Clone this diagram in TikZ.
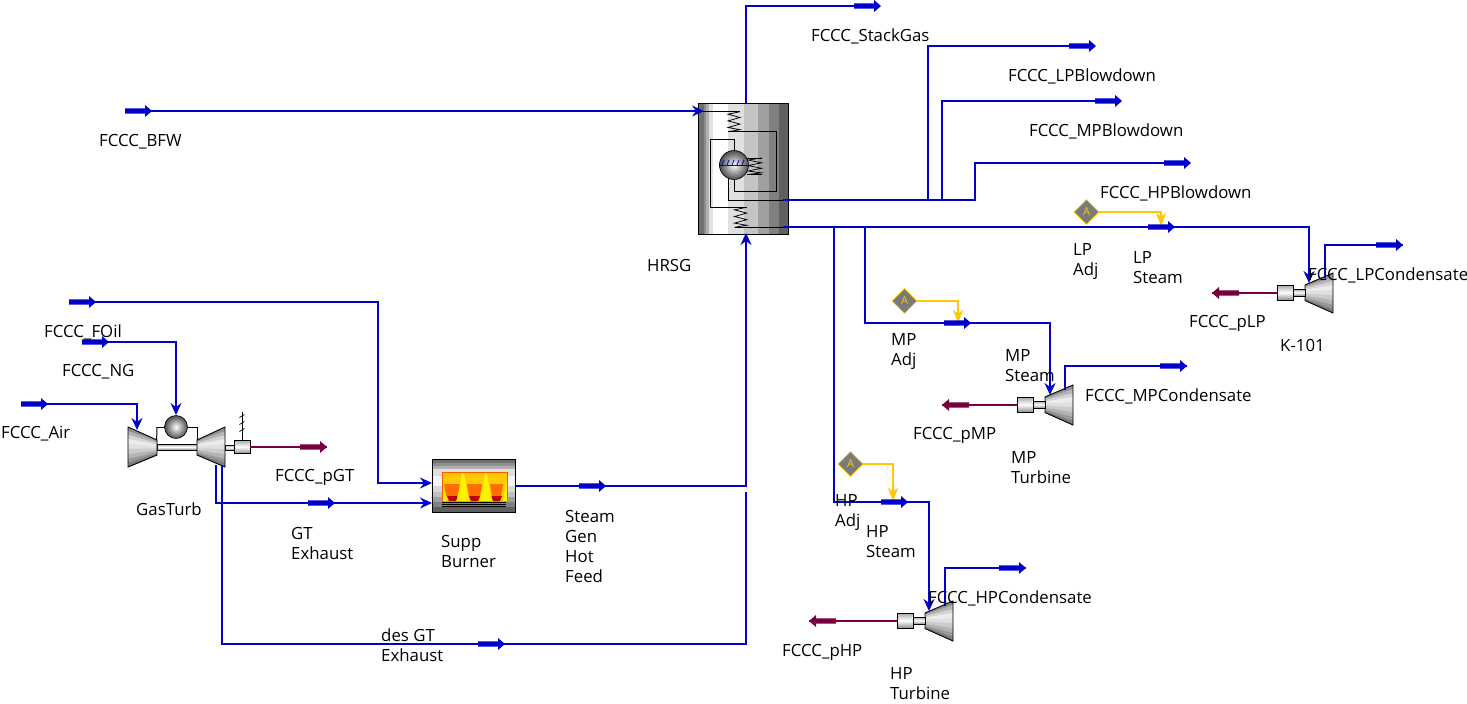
\documentclass[tikz,border=0pt]{standalone}
\usepackage{fontspec}
\setmainfont{Open Sans}
\usetikzlibrary{arrows.meta,calc,shapes.geometric}
\definecolor{strm}{HTML}{0000C8}
\definecolor{pow}{HTML}{780040}
\definecolor{adjy}{HTML}{FFC800}
\tikzset{
 x=1pt,y=-1pt,
 lbl/.style={anchor=west,align=left,font=\fontsize{16.8}{20}\selectfont,inner sep=0pt,text=black},
 stream/.style={draw=strm,line width=1.7pt},
 stin/.style={stream,-{Stealth[length=12pt,width=11pt,inset=4pt]}},
 pwr/.style={draw=pow,line width=1.7pt},
 sig/.style={draw=adjy,line width=1.4pt},
 sigin/.style={sig,-{Stealth[length=13pt,width=10pt,inset=3.5pt]}},
 thin/.style={draw=black,line width=1pt},
 adj/.style={diamond,draw=adjy,fill=black!52,minimum size=25pt,inner sep=0pt,line width=.8pt,text=adjy,font=\fontsize{11}{11}\selectfont},
 pt/.style={inner sep=0pt,minimum size=0pt},
}
% flag: stream tag arrow, #1 x of tip, #2 y, #3 colour, #4 direction (+1 right, -1 left)
\newcommand{\flagmark}[4]{%
 \fill[#3] (#1,#2) -- ({#1-#4*7},#2-6) -- ({#1-#4*7},#2-2.7) -- ({#1-#4*27},#2-2.7) -- ({#1-#4*27},#2+2.7) -- ({#1-#4*7},#2+2.7) -- ({#1-#4*7},#2+6) -- cycle;}
% tapered body, banded along the taper: x1 x2 ytop1 ybot1 ytop2 ybot2
\newcommand{\tapered}[6]{%
 \foreach \fa/\fb/\c in {0/.1/909090,.1/.2/B4B4B4,.2/.3/D4D4D4,.3/.42/ECECEC,.42/.55/E0E0E0,.55/.68/CCCCCC,.68/.8/B4B4B4,.8/.9/989898,.9/1/7C7C7C}{
  \definecolor{bd}{HTML}{\c}
  \fill[bd] (#1,{#3+\fa*(#4-#3)}) -- (#2,{#5+\fa*(#6-#5)}) -- (#2,{#5+\fb*(#6-#5)+.3}) -- (#1,{#3+\fb*(#4-#3)+.3}) -- cycle;}
 \draw[black,line width=.9pt] (#1,#3) -- (#2,#5) -- (#2,#6) -- (#1,#4) -- cycle;}
\newcommand{\barshape}[4]{% x1 y1 x2 y2
 \draw[black,line width=.9pt,top color=gray!70,bottom color=gray!90,middle color=white] (#1,#2) rectangle (#3,#4);}
\newcommand{\ballshape}[3]{% x y r
 \shade[inner color=white,outer color=black!70] (#1,#2) circle (#3);
 \draw[black,line width=.6pt] (#1,#2) circle (#3);}
\newcommand{\expander}[2]{% dx dy : LP turbine geometry shifted
 \begin{scope}[shift={(#1,#2)}]
 \tapered{1305}{1333}{285}{300.5}{273}{313}
 \barshape{1293}{289}{1305}{296}
 \barshape{1277}{285}{1293}{300}
 \end{scope}}
\newcommand{\coilz}[4]{% xleft xright ytop ybot : zigzag
 \draw[black,line width=.75pt] (#2,#3) -- (#1,{#3+(#4-#3)*.125}) -- (#2,{#3+(#4-#3)*.29}) -- (#1,{#3+(#4-#3)*.46}) -- (#2,{#3+(#4-#3)*.62}) -- (#1,{#3+(#4-#3)*.79}) -- (#2,{#3+(#4-#3)*.9}) -- (#1,#4);}
\begin{document}
\begin{tikzpicture}
\useasboundingbox (0,0) rectangle (1467,704);
% ---------- HRSG ----------
\foreach \a/\b/\c in {698/703.5/707070,703.5/706/8C8C8C,706/709/B0B0B0,709/713/E0E0E0,713/728/FFFFFF,728/743.5/E0E0E0,743.5/757.5/C4C4C4,757.5/768.5/A0A0A0,768.5/779/808080,779/788/606060}{
 \definecolor{bd}{HTML}{\c}\fill[bd] (\a,103) rectangle (\b,234);}
\node[pt,draw=black,line width=1pt,minimum width=90pt,minimum height=131pt] (hrsg) at (743,168.5) {};
\draw[thin] (703,111.7) -- (740,111.7);
\coilz{728}{740}{111.7}{131.7}
\draw[thin] (728,131.7) -- (776.5,131.7) -- (776.5,191) -- (734.5,191) -- (734.5,178);
\draw[thin] (734.5,152) -- (734.5,139.3) -- (710.7,139.3) -- (710.7,207.3) -- (746.7,207.3);
\coilz{734.5}{746.7}{207.3}{227.3}
\draw[thin] (734.5,227.3) -- (784,227.3);
\draw[thin] (728.5,178) -- (728.5,200) -- (784,200);
\draw[thin] (747,158) -- (761.5,158);
\coilz{748}{761.5}{158}{174.5}
\draw[thin] (747,174.5) -- (761.5,174.5);
\ballshape{734}{165}{14.5}
\draw[strm,line width=.9pt] (719.5,165.5) -- (749,165.5);
\foreach \tx in {722,727,732,737,742}{\draw[strm,line width=.8pt] (\tx,165) -- (\tx+2,160);}
\coordinate (hrsgW) at (704,111);
\coordinate (hrsgT) at (746,103);
\coordinate (hrsgB) at (746,233);
\coordinate (hrsgD) at (783,200);
\coordinate (hrsgS) at (783,227);
% ---------- gas turbine ----------
\draw[thin] (157,427) -- (197,427) -- (197,444);
\draw[thin] (157,427) -- (156.5,444);
\barshape{157}{444}{197}{450}
\barshape{225}{445}{234}{450}
\tapered{128}{157}{427}{467}{440}{455}
\tapered{197}{225}{440}{455}{427}{467}
\barshape{234}{440}{250}{453.5}
\ballshape{176}{427}{11.5}
\draw[thin,line width=.7pt] (242,412) -- (242,440);
\foreach \ty in {416,423,430}{\draw[thin,line width=.7pt] (239.5,\ty+1.5) -- (244.5,\ty-1.5);}
\coordinate (gtA) at (137,430);
\coordinate (gtF) at (176,415);
\coordinate (gtP) at (250,447);
\coordinate (gtX) at (216,465);
\coordinate (gtY) at (222,465);
% ---------- burner ----------
\foreach \a/\b/\c in {459/463/707070,463/466/909090,466/469/B0B0B0,469/476/E0E0E0,476/486/F4F4F4,486/492/D8D8D8,492/497/C0C0C0,497/502/A0A0A0,502/507/808080,507/512/606060}{
 \definecolor{bd}{HTML}{\c}\fill[bd] (432,\a) rectangle (515,\b);}
\draw[black,line width=1pt] (432,459) rectangle (515,512);
\fill[adjy] (442,472) rectangle (507,501);
\foreach \a/\b in {444/460,467/482,490/503}{
 \fill[orange!85!red] (\a,484) -- (\b,484) -- (\b-2,496) -- (\a+2,496) -- cycle;}
\foreach \a/\b in {447/458,469/480,491/502}{
 \fill[red!75!black] (\a,496) -- (\b,496) -- (\b-2,501) -- (\a+2,501) -- cycle;}
\foreach \fx in {463,486}{\fill[yellow] (\fx-6.5,501) -- (\fx-3.5,488) -- (\fx-1,473) -- (\fx+1,473) -- (\fx+3.5,488) -- (\fx+6.5,501) -- cycle;}
\fill[yellow] (442,501) -- (443,481) -- (447,501) -- cycle;
\fill[yellow] (507,501) -- (506,481) -- (503,501) -- cycle;
\draw[orange!70!red,line width=.9pt] (442,501) -- (442,472) -- (507,472) -- (507,501);
\foreach \ly in {502,504.3,506.7}{\draw[black,line width=.7pt] (442,\ly) -- (506,\ly);}
\coordinate (brA) at (432,483);
\coordinate (brB) at (432,503);
\coordinate (brO) at (516,486);
% ---------- turbines ----------
\expander{0}{0}\expander{-260}{112}\expander{-380}{328}
% ---------- adjusters ----------
\node[adj] (lpa) at (1086.5,212) {A};
\node[adj] (mpa) at (904.5,301) {A};
\node[adj] (hpa) at (850.5,464) {A};
% ---------- free ends ----------
\coordinate (sBFW) at (129,111);
\coordinate (sStack) at (880,6);
\coordinate (sLPB) at (1095,46);
\coordinate (sMPB) at (1121,101);
\coordinate (sHPB) at (1190,163);
% ---------- connectors ----------
\draw[stin] (sBFW) -- (hrsgW);
\draw[stream] (hrsgT) |- (sStack);
\draw[stream] (hrsgD) -- (975,200) -- (975,163) -- (sHPB);
\draw[stream] (928,200) |- (sLPB);
\draw[stream] (942,200) |- (sMPB);
\draw[stin] (hrsgS) -- (1309,227) -- (1309,283);
\draw[stin] (865,227) -- (865,323) -- (1050,323) -- (1050,395);
\draw[stin] (834,227) -- (834,502) -- (929,502) -- (929,611);
\draw[stream] (1325,278) -- (1325,245) -- (1403,245);
\draw[stream] (1065,390) -- (1065,366) -- (1187,366);
\draw[stream] (945,606) -- (945,568) -- (1026,568);
\draw[pwr] (1277,293) -- (1212,293);
\draw[pwr] (1017,405) -- (942,405);
\draw[pwr] (897,621) -- (809,621);
\draw[pwr] (gtP) -- (327,447);
\draw[stin] (25,404) -| (gtA);
\draw[stin] (86,342) -| (gtF);
\draw[stin] (72,302) -- (378,302) -- (378,483) -- (brA);
\draw[stin] (gtX) |- (brB);
\draw[stream] (gtY) -- (222,644) -- (746,644) -- (746,492);
\draw[stin] (brO) -- (746,486) -- (hrsgB);
\draw[sigin] (lpa) -- (1161,212) -- (1161,226);
\draw[sigin] (mpa) -- (958,301) -- (958,323);
\draw[sigin] (hpa) -- (893,464) -- (893,501);
% ---------- tags ----------
\foreach \tx/\ty in {152/111,881/6,1096/46,1122/101,1191/163,1175/227,971/323,908/502,1403/245,1187/366,1026/568,48/404,109/342,96/302,335/503,505/644,606/486}{\flagmark{\tx}{\ty}{strm}{1}}
\flagmark{327}{447}{pow}{1}
\flagmark{1212}{293}{pow}{-1}
\flagmark{942}{405}{pow}{-1}
\flagmark{809}{621}{pow}{-1}
% ---------- labels ----------
\node[lbl] (t1) at (811,36.5) {FCCC\_StackGas};
\node[lbl] (t2) at (1008,76.5) {FCCC\_LPBlowdown};
\node[lbl] (t3) at (1029,131.5) {FCCC\_MPBlowdown};
\node[lbl] (t4) at (1100,193.5) {FCCC\_HPBlowdown};
\node[lbl] (t5) at (99,141.5) {FCCC\_BFW};
\node[lbl] (t6) at (647,265.5) {HRSG};
\node[lbl] (t7) at (1073,261.5) {LP\\Adj};
\node[lbl] (t8) at (1133,267.5) {LP\\Steam};
\node[lbl] (t9) at (1308,275.5) {FCCC\_LPCondensate};
\node[lbl] (t10) at (1189,323.5) {FCCC\_pLP};
\node[lbl] (t11) at (1280,345.5) {K-101};
\node[lbl] (t12) at (891,351.5) {MP\\Adj};
\node[lbl] (t13) at (1005,365.5) {MP\\Steam};
\node[lbl] (t14) at (1085,396.5) {FCCC\_MPCondensate};
\node[lbl] (t15) at (913,435.5) {FCCC\_pMP};
\node[lbl] (t16) at (1011,467.5) {MP\\Turbine};
\node[lbl] (t17) at (44,332.5) {FCCC\_FOil};
\node[lbl] (t18) at (62,371.5) {FCCC\_NG};
\node[lbl] (t19) at (1,433.5) {FCCC\_Air};
\node[lbl] (t20) at (136,509.5) {GasTurb};
\node[lbl] (t21) at (275,477.5) {FCCC\_pGT};
\node[lbl] (t22) at (291,543.5) {GT\\Exhaust};
\node[lbl] (t23) at (441,551.5) {Supp\\Burner};
\node[lbl] (t24) at (565,546.5) {Steam\\Gen\\Hot\\Feed};
\node[lbl] (t25) at (381,645.5) {des GT\\Exhaust};
\node[lbl] (t26) at (835,512.5) {HP\\Adj};
\node[lbl] (t27) at (866,541.5) {HP\\Steam};
\node[lbl] (t28) at (928,598.5) {FCCC\_HPCondensate};
\node[lbl] (t29) at (782,652.5) {FCCC\_pHP};
\node[lbl] (t30) at (890,683.5) {HP\\Turbine};
\end{tikzpicture}
\end{document}
